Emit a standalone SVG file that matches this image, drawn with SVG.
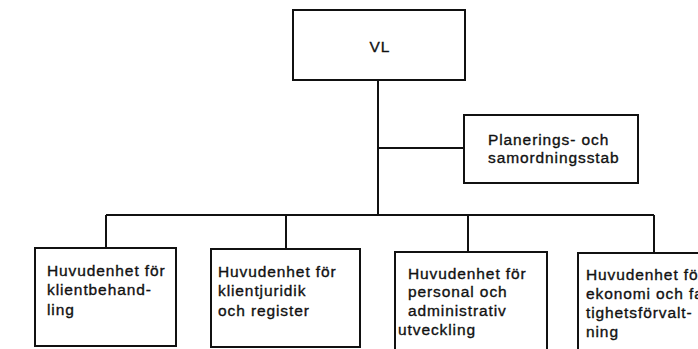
<svg xmlns="http://www.w3.org/2000/svg" width="698" height="349" viewBox="0 0 698 349">
<style>
.box{fill:#fff;stroke:#111;stroke-width:2}
.ln{fill:none;stroke:#111;stroke-width:2}
text{font-family:"Liberation Sans",Arial,sans-serif;font-size:15.5px;fill:#111;stroke:#111;stroke-width:0.35;letter-spacing:0.9px}
</style>
<rect width="698" height="349" fill="#fff"/>
<g id="connectors">
<path class="ln" d="M378 80 V215"/>
<path class="ln" d="M378 148 H464"/>
<path class="ln" d="M106 215 H654"/>
<path class="ln" d="M106 215 V248"/>
<path class="ln" d="M286 215 V249"/>
<path class="ln" d="M468 215 V252"/>
<path class="ln" d="M654 215 V253"/>
</g>
<g id="vl">
<rect class="box" x="293" y="10" width="172" height="70"/>
<text x="380" y="52" text-anchor="middle">VL</text>
</g>
<g id="stab">
<rect class="box" x="464" y="115" width="174" height="68"/>
<text x="488" y="145">Planerings- och</text>
<text x="488" y="163">samordningsstab</text>
</g>
<g id="klientbehandling">
<rect class="box" x="35" y="248" width="141" height="98"/>
<text x="47" y="276">Huvudenhet för</text>
<text x="47" y="295">klientbehand-</text>
<text x="47" y="315">ling</text>
</g>
<g id="klientjuridik">
<rect class="box" x="211" y="249" width="149" height="98"/>
<text x="218" y="277">Huvudenhet för</text>
<text x="218" y="296">klientjuridik</text>
<text x="218" y="316">och register</text>
</g>
<g id="personal">
<rect class="box" x="395" y="252" width="152" height="110"/>
<text x="408" y="279">Huvudenhet för</text>
<text x="408" y="297">personal och</text>
<text x="408" y="316">administrativ</text>
<text x="398" y="335">utveckling</text>
</g>
<g id="ekonomi">
<rect class="box" x="578" y="253" width="130" height="110"/>
<text x="586" y="280">Huvudenhet för</text>
<text x="586" y="299">ekonomi och fas-</text>
<text x="586" y="318">tighetsförvalt-</text>
<text x="586" y="337">ning</text>
</g>
</svg>
